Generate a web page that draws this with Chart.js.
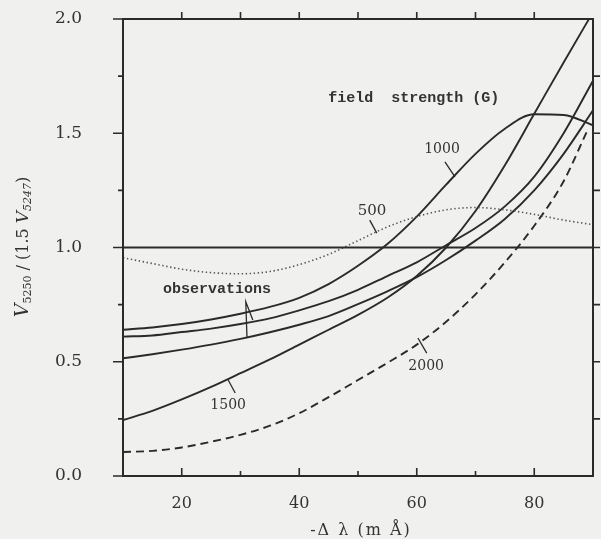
<!DOCTYPE html>
<html>
<head>
<meta charset="utf-8">
<script src="https://cdn.jsdelivr.net/npm/chart.js@4.4.1/dist/chart.umd.min.js"></script>
<style>
  html, body { margin: 0; padding: 0; background: #f0f0ee; }
  #wrap { width: 601px; height: 539px; position: relative; }
</style>
</head>
<body>
<div id="wrap"><canvas id="chart"></canvas></div>
<script>
// wavelength offset -Δλ (mÅ)
const lambda = [10, 15, 20, 25, 30, 35, 40, 45, 50, 55, 60, 65, 70, 75, 80, 85, 90];
const lambda2000 = [10, 15, 20, 25, 30, 35, 40, 45, 50, 55, 60, 65, 70, 75, 80, 85, 89];

// V5250 / (1.5 V5247) per field strength (G)
const ratio500  = [0.955, 0.93, 0.905, 0.89, 0.885, 0.895, 0.925, 0.97, 1.03, 1.09, 1.135, 1.165, 1.175, 1.165, 1.145, 1.12, 1.10];
const ratio1000 = [0.64, 0.65, 0.665, 0.685, 0.71, 0.74, 0.78, 0.84, 0.92, 1.015, 1.135, 1.275, 1.41, 1.52, 1.583, 1.58, 1.535];
const ratio1500 = [0.245, 0.285, 0.335, 0.39, 0.45, 0.51, 0.575, 0.64, 0.705, 0.78, 0.875, 1.0, 1.16, 1.36, 1.585, 1.81, 2.03];
const ratio2000 = [0.105, 0.11, 0.125, 0.15, 0.18, 0.22, 0.275, 0.345, 0.42, 0.495, 0.575, 0.675, 0.795, 0.935, 1.095, 1.29, 1.51];

// observed ratios (two curves)
const obsUpper = [0.61, 0.615, 0.63, 0.645, 0.665, 0.69, 0.725, 0.765, 0.815, 0.875, 0.935, 1.01, 1.085, 1.18, 1.31, 1.50, 1.73];
const obsLower = [0.515, 0.533, 0.553, 0.575, 0.60, 0.629, 0.662, 0.70, 0.752, 0.808, 0.87, 0.945, 1.03, 1.125, 1.25, 1.41, 1.60];

const unityRatio = 1.0;
const xTickLabels = [20, 40, 60, 80];
const yTickLabels = [0.0, 0.5, 1.0, 1.5, 2.0];

const INK = '#2a2a2a';
const TEXT = '#333';

function pts(xs, ys) {
    return xs.map((x, i) => ({ x: x, y: ys[i] }));
}

function solid(data) {
    return { data: data, borderColor: INK, borderWidth: 1.9, pointRadius: 0, cubicInterpolationMode: 'monotone' };
}

// labels & leader lines, in data units
const notes = [
    { text: '1000', x: 64.3, y: 1.43, font: '14px "DejaVu Serif"', lead: [[64.8, 1.375], [66.5, 1.309]] },
    { text: '500', x: 52.4, y: 1.16, font: '15px "DejaVu Serif"', lead: [[52.0, 1.12], [53.2, 1.063]] },
    { text: '1500', x: 27.9, y: 0.31, font: '14px "DejaVu Serif"', lead: [[27.9, 0.42], [29.1, 0.363]] },
    { text: '2000', x: 61.6, y: 0.48, font: '14px "DejaVu Serif"', lead: [[60.2, 0.604], [61.7, 0.538]] },
    { text: 'observations', x: 26.0, y: 0.818, font: 'bold 15px "Liberation Mono"',
      lead: [[31.1, 0.608], [30.9, 0.762], [32.1, 0.683]] },
    { text: 'field  strength (G)', x: 59.5, y: 1.655, font: 'bold 15px "Liberation Mono"' }
];

const framePlugin = {
    id: 'frame',
    afterDatasetsDraw(chart) {
        const ctx = chart.ctx;
        const a = chart.chartArea;
        const xs = chart.scales.x, ys = chart.scales.y;
        ctx.save();
        ctx.strokeStyle = INK;
        ctx.lineWidth = 2;
        ctx.strokeRect(a.left, a.top, a.right - a.left, a.bottom - a.top);

        ctx.lineWidth = 1.6;
        ctx.beginPath();
        ys.ticks.forEach(t => {
            const py = ys.getPixelForValue(t.value);
            const major = Math.abs(t.value * 2 - Math.round(t.value * 2)) < 1e-6;
            ctx.moveTo(a.left - (major ? 10 : 5), py);
            ctx.lineTo(a.left, py);
            if (t.value > 0 && t.value < 2) {
                ctx.moveTo(a.right, py);
                ctx.lineTo(a.right + 7, py);
            }
        });
        xs.ticks.forEach(t => {
            if (t.value <= 10 || t.value >= 90) return;
            const px = xs.getPixelForValue(t.value);
            const major = t.value % 20 === 0;
            ctx.moveTo(px, a.top);
            ctx.lineTo(px, a.top - 7);
            ctx.moveTo(px, a.bottom);
            ctx.lineTo(px, a.bottom - (major ? 8 : 5));
        });
        ctx.stroke();

        // annotations
        ctx.fillStyle = TEXT;
        ctx.textAlign = 'center';
        ctx.textBaseline = 'middle';
        ctx.lineWidth = 1.3;
        notes.forEach(n => {
            ctx.font = n.font;
            ctx.fillText(n.text, xs.getPixelForValue(n.x), ys.getPixelForValue(n.y));
            if (n.lead) {
                ctx.beginPath();
                n.lead.forEach((p, i) => {
                    const px = xs.getPixelForValue(p[0]), py = ys.getPixelForValue(p[1]);
                    if (i === 0) ctx.moveTo(px, py); else ctx.lineTo(px, py);
                });
                ctx.stroke();
            }
        });

        // x title
        ctx.font = '16px "DejaVu Serif"';
        ctx.textBaseline = 'alphabetic';
        ctx.letterSpacing = '2px';
        ctx.fillText('-\u0394 \u03bb (m \u00c5)', (a.left + a.right) / 2 + 3, 535);
        ctx.letterSpacing = '0px';

        // y title: V5250 / (1.5 V5247), rotated
        const parts = [
            { t: 'V', f: 'italic 19px "DejaVu Serif"', dy: 0 },
            { t: '5250', f: '11px "DejaVu Serif"', dy: 3 },
            { t: ' / ', f: '16px "DejaVu Serif"', dy: 0 },
            { t: '(1.5 ', f: '16px "DejaVu Serif"', dy: 0 },
            { t: 'V', f: 'italic 17px "DejaVu Serif"', dy: 0 },
            { t: '5247', f: 'italic 11px "DejaVu Serif"', dy: 3 },
            { t: ')', f: '16px "DejaVu Serif"', dy: 0 }
        ];
        let w = 0;
        parts.forEach(p => { ctx.font = p.f; p.w = ctx.measureText(p.t).width; w += p.w; });
        ctx.translate(28, 247 + w / 2);
        ctx.rotate(-Math.PI / 2);
        ctx.textAlign = 'left';
        let cx = 0;
        parts.forEach(p => {
            ctx.font = p.f;
            ctx.fillText(p.t, cx, p.dy);
            cx += p.w;
        });
        ctx.restore();
    }
};

new Chart(document.getElementById('chart'), {
    type: 'line',
    data: {
        datasets: [
            { data: [{ x: 10, y: unityRatio }, { x: 90, y: unityRatio }], borderColor: INK, borderWidth: 1.9, pointRadius: 0 },
            { data: pts(lambda, ratio500), borderColor: '#555', borderWidth: 1.6, borderDash: [1.4, 2.6], pointRadius: 0, cubicInterpolationMode: 'monotone' },
            solid(pts(lambda, ratio1000)),
            solid(pts(lambda, ratio1500)),
            solid(pts(lambda, obsUpper)),
            solid(pts(lambda, obsLower)),
            { data: pts(lambda2000, ratio2000), borderColor: INK, borderWidth: 1.9, borderDash: [8, 5], pointRadius: 0, cubicInterpolationMode: 'monotone' }
        ]
    },
    options: {
        responsive: true,
        maintainAspectRatio: false,
        animation: false,
        layout: { autoPadding: false, padding: { top: 19, right: 8, left: 0, bottom: 0 } },
        plugins: { legend: { display: false }, tooltip: { enabled: false } },
        scales: {
            x: {
                type: 'linear',
                min: 10,
                max: 90,
                grid: { display: false, drawTicks: false },
                border: { display: false },
                ticks: {
                    stepSize: 10,
                    autoSkip: false,
                    maxRotation: 0,
                    padding: 18,
                    color: TEXT,
                    font: { family: 'DejaVu Serif', size: 16 },
                    callback: v => xTickLabels.includes(v) ? String(v) : ''
                },
                afterFit: s => { s.height = 63; s.paddingLeft = 0; s.paddingRight = 0; }
            },
            y: {
                min: 0,
                max: 2,
                grid: { display: false, drawTicks: false },
                border: { display: false },
                ticks: {
                    stepSize: 0.25,
                    autoSkip: false,
                    padding: 41,
                    color: TEXT,
                    font: { family: 'DejaVu Serif', size: 17 },
                    callback: v => yTickLabels.some(t => Math.abs(t - v) < 1e-6) ? v.toFixed(1) : ''
                },
                afterFit: s => { s.width = 123; s.paddingTop = 0; s.paddingBottom = 0; }
            }
        }
    },
    plugins: [framePlugin]
});
</script>
</body>
</html>
